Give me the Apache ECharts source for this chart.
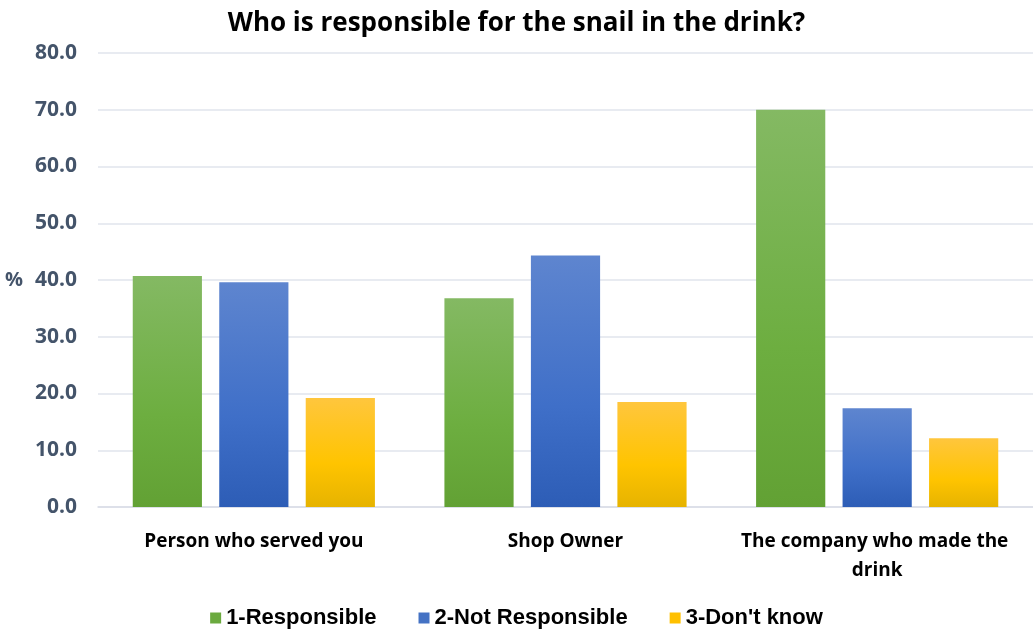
<!DOCTYPE html>
<html><head><meta charset="utf-8">
<script src="https://cdn.jsdelivr.net/npm/echarts@6/dist/echarts.min.js"></script>
<style>html,body{margin:0;padding:0;background:#fff}#c{width:1033px;height:632px}</style>
</head><body><div id="c"></div>
<script>
const categories = ['Person who served you', 'Shop Owner', 'The company who made the drink'];
const seriesNames = ['1-Responsible', '2-Not Responsible', "3-Don't know"];
const responsible = [40.7, 36.8, 70.0];
const notResponsible = [39.6, 44.3, 17.4];
const dontKnow = [19.2, 18.5, 12.1];

function grad(top, mid, bottom) {
  return new echarts.graphic.LinearGradient(0, 0, 0, 1, [
    {offset: 0, color: top}, {offset: 0.6, color: mid}, {offset: 1, color: bottom}
  ]);
}
const fills = [
  grad('#84B963', '#6DAE40', '#62A134'),
  grad('#5E85CF', '#3F6FC8', '#2D5DB6'),
  grad('#FFC63D', '#FFC400', '#E6B300')
];
const legendColors = ['#6BAA3F', '#4472C4', '#FFC000'];
const values = [responsible, notResponsible, dontKnow];

const chart = echarts.init(document.getElementById('c'), null, {renderer: 'canvas'});
chart.setOption({
  animation: false,
  title: {
    text: 'Who is responsible for the snail in the drink?',
    left: 'center', top: 6,
    textStyle: {fontFamily: 'Open Sans', fontWeight: 'bold', fontSize: 26, color: '#000'}
  },
  legend: {
    bottom: -2, left: 'center', itemGap: 42, itemWidth: 11, itemHeight: 11,
    icon: 'rect',
    textStyle: {fontFamily: 'Liberation Sans', fontWeight: 'bold', fontSize: 22, color: '#000'},
    data: seriesNames.map((n, i) => ({name: n, itemStyle: {color: legendColors[i]}}))
  },
  grid: {left: 98, right: 0, top: 53, bottom: 125},
  xAxis: {
    type: 'category', data: categories,
    axisTick: {show: false},
    axisLine: {lineStyle: {color: '#D9DDE6', width: 1.5}},
    axisLabel: {
      interval: 0, margin: 20, width: 290, overflow: 'break', lineHeight: 29,
      fontFamily: 'Open Sans', fontWeight: 'bold', fontSize: 19, color: '#000'
    }
  },
  yAxis: {
    type: 'value', min: 0, max: 80, interval: 10,
    name: '%', nameLocation: 'middle', nameRotate: 0, nameGap: 75,
    nameTextStyle: {fontFamily: 'Open Sans', fontWeight: 'bold', fontSize: 20, color: '#44546A'},
    axisLabel: {
      formatter: v => v.toFixed(1), margin: 21,
      fontFamily: 'Open Sans', fontWeight: 'bold', fontSize: 21, color: '#44546A'
    },
    splitLine: {lineStyle: {color: '#E1E5EC', width: 1.5}},
    axisLine: {show: false}, axisTick: {show: false}
  },
  series: seriesNames.map((n, i) => ({
    name: n, type: 'bar', data: values[i],
    barWidth: '22.2%', barGap: '25%',
    itemStyle: {color: fills[i]}
  }))
});
</script></body></html>
